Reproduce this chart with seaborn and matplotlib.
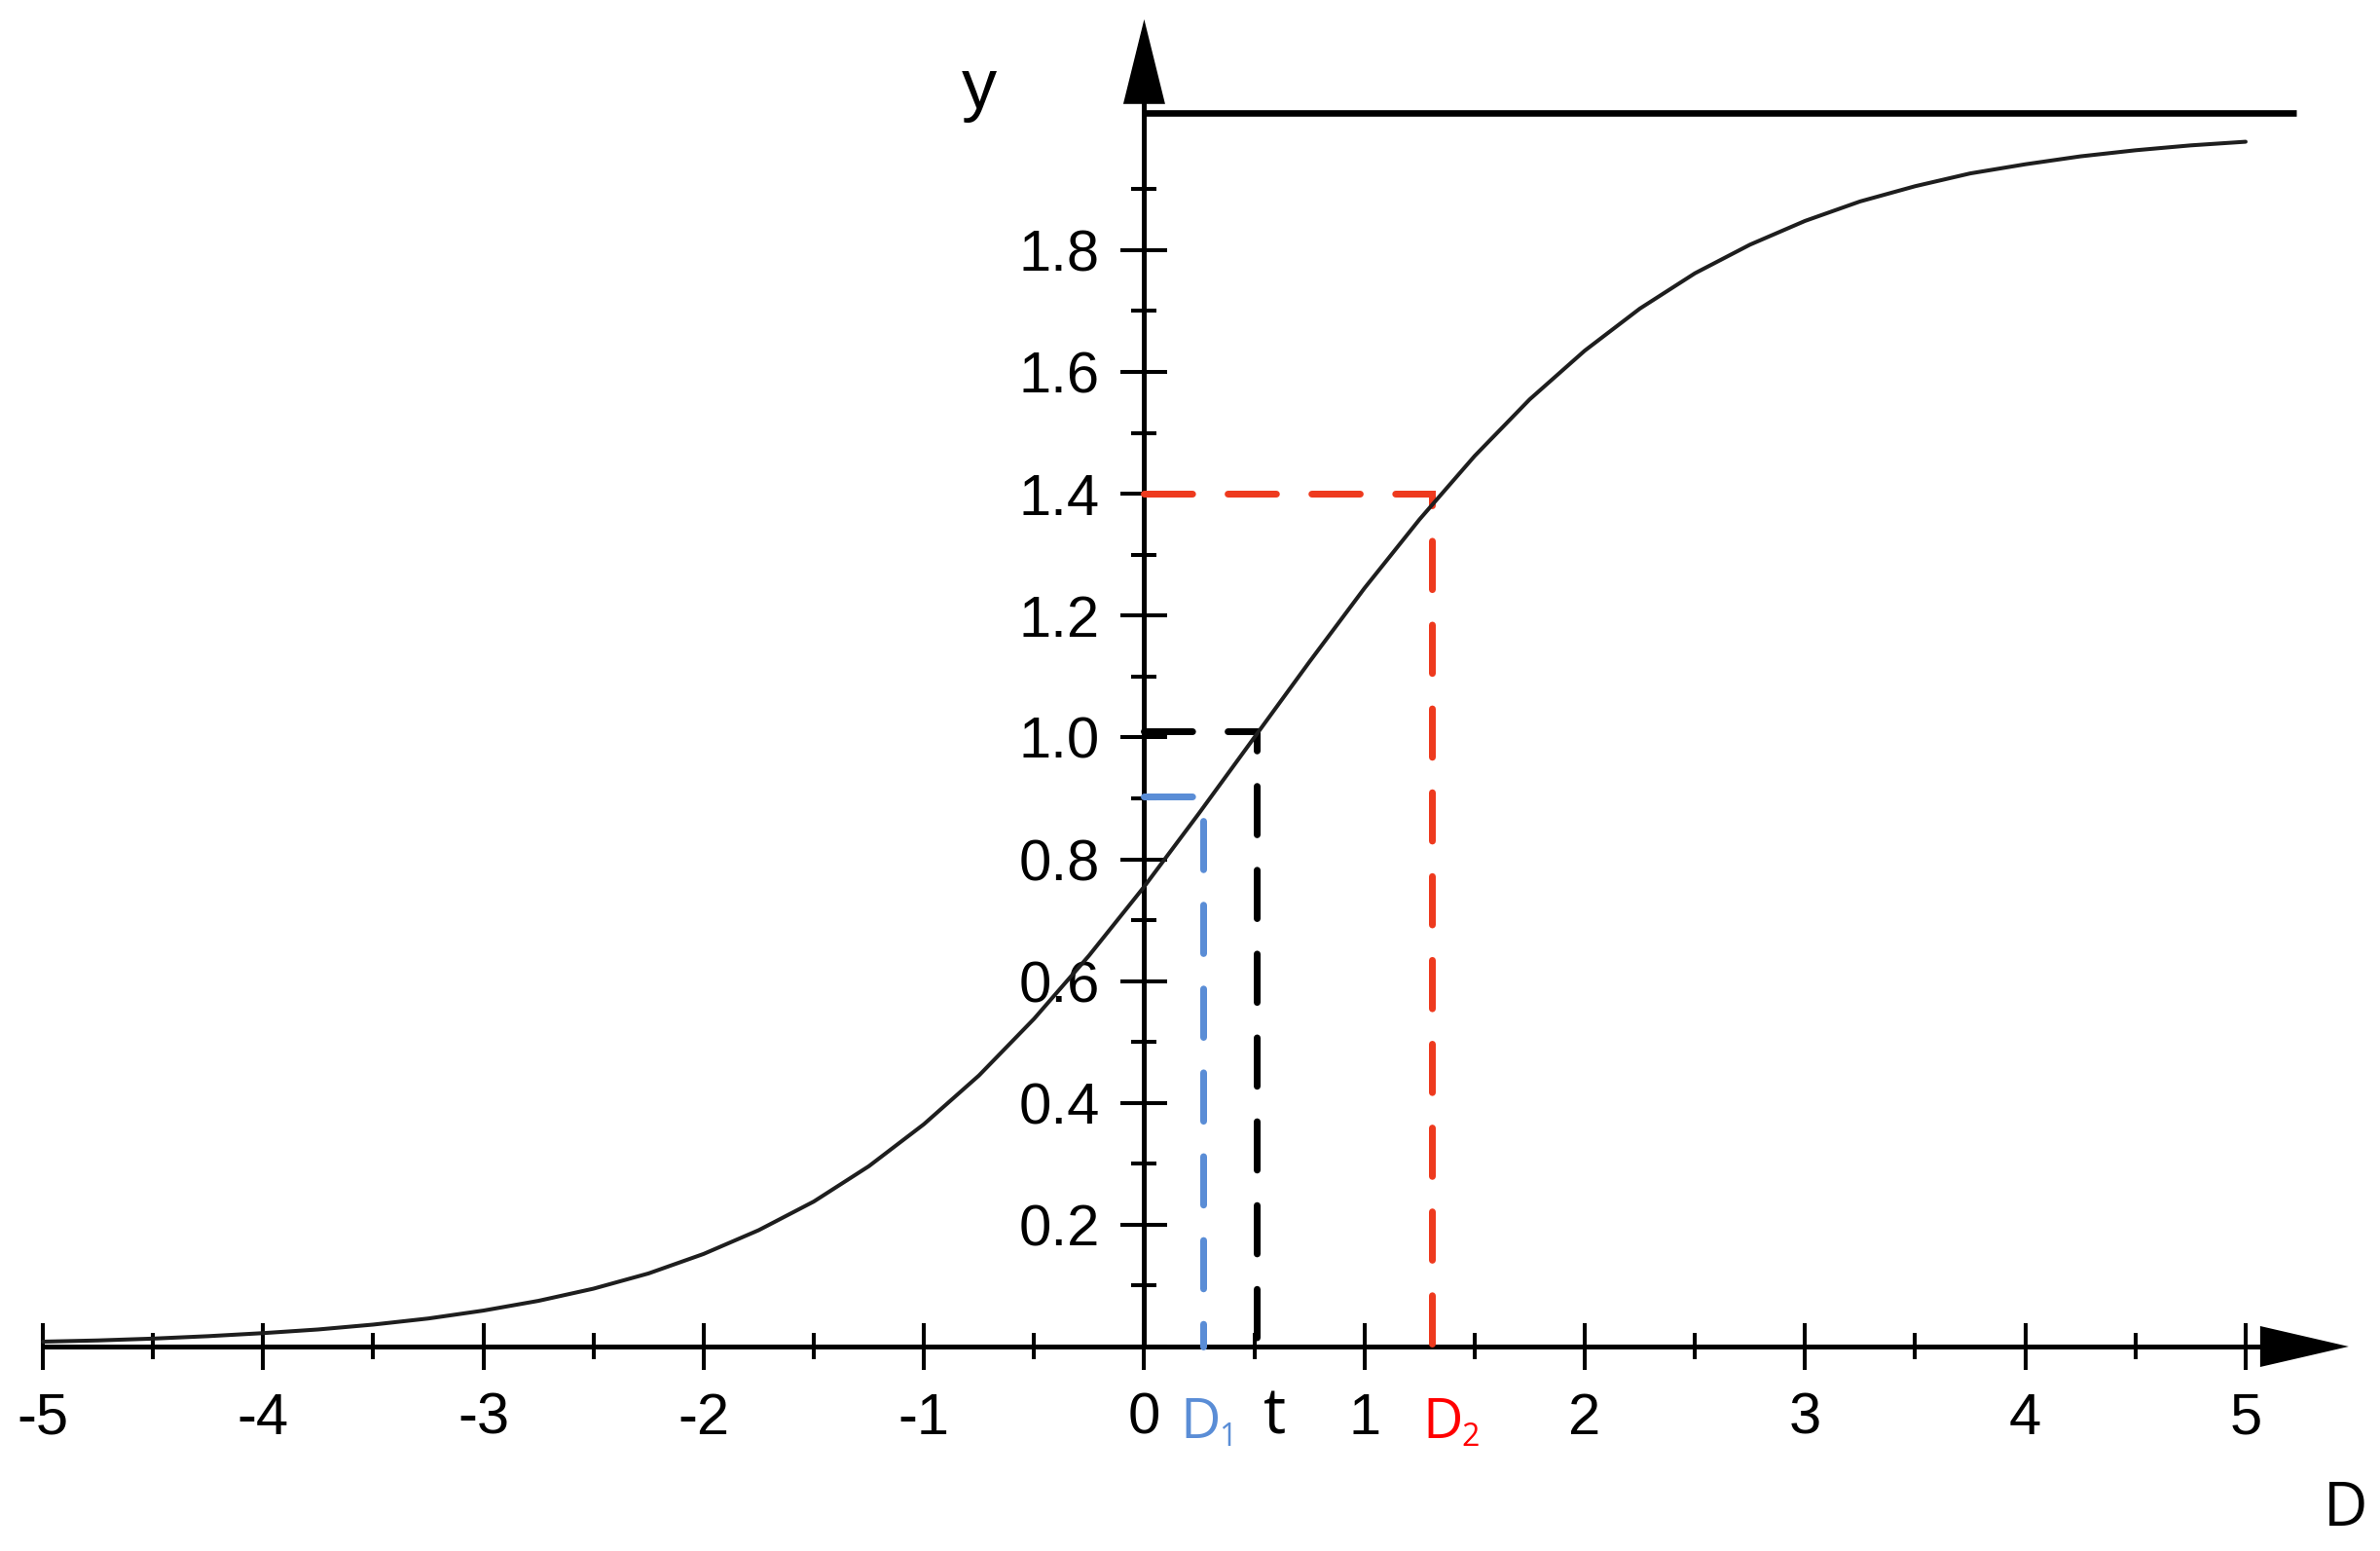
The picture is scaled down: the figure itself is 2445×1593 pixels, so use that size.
import numpy as np
import matplotlib
matplotlib.use("Agg")
import matplotlib.pyplot as plt
import seaborn as sns

# Curve values (every 0.25 on D)
d_values = [-5.0, -4.75, -4.5, -4.25, -4.0, -3.75, -3.5, -3.25, -3.0, -2.75,
            -2.5, -2.25, -2.0, -1.75, -1.5, -1.25, -1.0, -0.75, -0.5, -0.25,
            0.0, 0.25, 0.5, 0.75, 1.0, 1.25, 1.5, 1.75, 2.0, 2.25,
            2.5, 2.75, 3.0, 3.25, 3.5, 3.75, 4.0, 4.25, 4.5, 4.75, 5.0]
y_values = [0.008, 0.010, 0.013, 0.017, 0.022, 0.028, 0.036, 0.046, 0.059, 0.075,
            0.095, 0.120, 0.152, 0.191, 0.238, 0.296, 0.365, 0.445, 0.538, 0.642,
            0.755, 0.876, 1.000, 1.124, 1.245, 1.358, 1.462, 1.555, 1.635, 1.704,
            1.762, 1.809, 1.848, 1.880, 1.905, 1.926, 1.941, 1.954, 1.964, 1.972, 1.978]

# Upper asymptote
asymptote_y = 2.025
asymptote_end = 5.23

# Marked points: D1, t, D2
guide_x = [0.267, 0.51, 1.306]
guide_y = [0.903, 1.01, 1.40]
guide_colors = ["#5a8dd6", "#000000", "#ee3a1e"]

x_major = [-5, -4, -3, -2, -1, 0, 1, 2, 3, 4, 5]
x_minor = [-4.5, -3.5, -2.5, -1.5, -0.5, 0.5, 1.5, 2.5, 3.5, 4.5]
y_major = [0.0, 0.2, 0.4, 0.6, 0.8, 1.0, 1.2, 1.4, 1.6, 1.8]
y_minor = [0.1, 0.3, 0.5, 0.7, 0.9, 1.1, 1.3, 1.5, 1.7, 1.9]
y_ticklabels = ["0.2", "0.4", "0.6", "0.8", "1.0", "1.2", "1.4", "1.6", "1.8"]

sns.set_style("white")
plt.rcParams["font.family"] = ["Liberation Sans", "DejaVu Sans"]

fig = plt.figure(figsize=(24.45, 15.93), dpi=100)
ax = fig.add_axes([0, 0, 1, 1])
ax.set_xlim(-5.194, 5.610)
ax.set_ylim(-0.3357, 2.2107)
ax.axis("off")

# pixel -> data helpers
ux = 1 / 226.3
uy = 1 / 625.6

# axes lines
ax.plot([-5, 5.1], [0, 0], color="black", lw=3.6, solid_capstyle="butt", zorder=3)
ax.plot([0, 0], [0, 2.06], color="black", lw=3.6, solid_capstyle="butt", zorder=3)
# arrowheads
ax.fill([5.066, 5.468, 5.066], [21 * uy, 0, -21 * uy], color="black", lw=0, zorder=3)
ax.fill([-21.5 * ux, 0, 21.5 * ux], [2.040, 2.179, 2.040], color="black", lw=0, zorder=3)

# ticks
ax.vlines(x_major, -24 * uy, 24 * uy, color="black", lw=2.9, zorder=3)
ax.vlines(x_minor, -13.5 * uy, 13.5 * uy, color="black", lw=2.9, zorder=3)
ax.hlines(y_major, -24 * ux, 24 * ux, color="black", lw=2.9, zorder=3)
ax.hlines(y_minor, -13 * ux, 13 * ux, color="black", lw=2.9, zorder=3)

# tick labels
for xv in x_major:
    ax.text(xv, -90 * uy, str(xv), ha="center", va="baseline", fontsize=43,
            color="black")
for yv, lab in zip(y_major[1:], y_ticklabels):
    ax.text(-0.201, yv - 21.5 * uy, lab, ha="right", va="baseline", fontsize=43,
            color="black")

# asymptote
ax.plot([0, asymptote_end], [asymptote_y, asymptote_y], color="black", lw=4.8,
        solid_capstyle="butt", zorder=3)

# dashed guides
for gx, gy, gc in zip(guide_x, guide_y, guide_colors):
    ax.plot([0, gx, gx], [gy, gy, 0], color=gc, lw=5.04, dashes=(7.1, 5.2),
            dash_capstyle="round", dash_joinstyle="miter", zorder=4)

# curve
sns.lineplot(x=d_values, y=y_values, ax=ax, color="#1e1e1e", lw=2.9, zorder=5)

# labels under the guides
lab_font = ["Open Sans", "DejaVu Sans"]
base_y = -94 * uy
ax.text(0.165, base_y, "D", color="#5a8dd6", fontsize=41, family=lab_font,
        ha="left", va="baseline")
ax.text(0.338, base_y - 8 * uy, "1", color="#5a8dd6", fontsize=23,
        family=lab_font, ha="left", va="baseline")
ax.text(0.594, -90 * uy, "t", color="black", fontsize=47, family=lab_font,
        ha="center", va="baseline")
ax.text(1.262, base_y, "D", color="#ff0000", fontsize=41, family=lab_font,
        ha="left", va="baseline")
ax.text(1.440, base_y - 8 * uy, "2", color="#ff0000", fontsize=23,
        family=lab_font, ha="left", va="baseline")

# axis names
ax.text(-0.749, 2.033, "y", fontsize=52, ha="center", va="baseline", color="black")
ax.text(5.455, -0.294, "D", fontsize=45, family=lab_font, ha="center",
        va="baseline", color="black")

fig.savefig("out.png", dpi=100, facecolor="white")
